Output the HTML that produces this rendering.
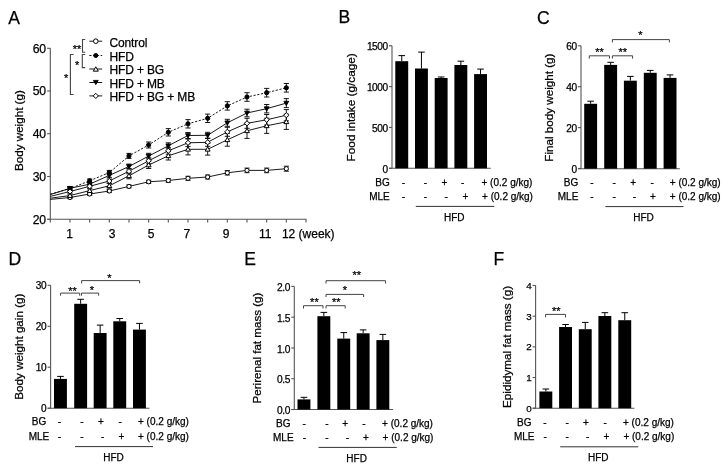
<!DOCTYPE html>
<html><head><meta charset="utf-8"><style>
html,body{margin:0;padding:0;background:#fff;}
svg{display:block;will-change:transform;filter:blur(0.3px);}
text{font-family:"Liberation Sans", sans-serif;fill:#000;stroke:#000;stroke-width:0.25px;}
</style></head><body>
<svg width="726" height="468" viewBox="0 0 726 468">
<rect width="726" height="468" fill="#fff"/>
<text x="8.30" y="23.80" font-size="17.5" text-anchor="start">A</text>
<text x="338.60" y="22.90" font-size="17.5" text-anchor="start">B</text>
<text x="537.00" y="24.00" font-size="17.5" text-anchor="start">C</text>
<text x="8.60" y="265.00" font-size="17.5" text-anchor="start">D</text>
<text x="244.30" y="265.20" font-size="17.5" text-anchor="start">E</text>
<text x="493.60" y="265.20" font-size="17.5" text-anchor="start">F</text>
<line x1="392.00" y1="45.80" x2="392.00" y2="168.30" stroke="#555" stroke-width="1.1"/>
<line x1="389.00" y1="168.30" x2="490.80" y2="168.30" stroke="#555" stroke-width="1.1"/>
<line x1="389.00" y1="45.80" x2="392.00" y2="45.80" stroke="#555" stroke-width="1.1"/>
<text x="387.60" y="50.24" font-size="10.1" text-anchor="end" letter-spacing="-0.45">1500</text>
<line x1="389.00" y1="86.60" x2="392.00" y2="86.60" stroke="#555" stroke-width="1.1"/>
<text x="387.60" y="91.04" font-size="10.1" text-anchor="end" letter-spacing="-0.45">1000</text>
<line x1="389.00" y1="127.40" x2="392.00" y2="127.40" stroke="#555" stroke-width="1.1"/>
<text x="387.60" y="131.84" font-size="10.1" text-anchor="end" letter-spacing="-0.45">500</text>
<line x1="389.00" y1="168.30" x2="392.00" y2="168.30" stroke="#555" stroke-width="1.1"/>
<text x="387.60" y="172.74" font-size="10.1" text-anchor="end" letter-spacing="-0.45">0</text>
<line x1="401.75" y1="55.60" x2="401.75" y2="61.20" stroke="#000" stroke-width="1.0"/>
<line x1="398.45" y1="55.60" x2="405.05" y2="55.60" stroke="#000" stroke-width="1.0"/>
<rect x="395.30" y="61.20" width="12.9" height="107.10" fill="#000"/>
<line x1="421.45" y1="52.10" x2="421.45" y2="68.50" stroke="#000" stroke-width="1.0"/>
<line x1="418.15" y1="52.10" x2="424.75" y2="52.10" stroke="#000" stroke-width="1.0"/>
<rect x="415.00" y="68.50" width="12.9" height="99.80" fill="#000"/>
<line x1="441.15" y1="77.00" x2="441.15" y2="78.00" stroke="#000" stroke-width="1.0"/>
<line x1="437.85" y1="77.00" x2="444.45" y2="77.00" stroke="#000" stroke-width="1.0"/>
<rect x="434.70" y="78.00" width="12.9" height="90.30" fill="#000"/>
<line x1="460.85" y1="61.20" x2="460.85" y2="65.00" stroke="#000" stroke-width="1.0"/>
<line x1="457.55" y1="61.20" x2="464.15" y2="61.20" stroke="#000" stroke-width="1.0"/>
<rect x="454.40" y="65.00" width="12.9" height="103.30" fill="#000"/>
<line x1="480.55" y1="69.10" x2="480.55" y2="74.10" stroke="#000" stroke-width="1.0"/>
<line x1="477.25" y1="69.10" x2="483.85" y2="69.10" stroke="#000" stroke-width="1.0"/>
<rect x="474.10" y="74.10" width="12.9" height="94.20" fill="#000"/>
<text x="354.70" y="107.30" font-size="11.8" text-anchor="middle" transform="rotate(-90 354.70 107.30)">Food intake (g/cage)</text>
<text x="389.70" y="185.60" font-size="10" text-anchor="end">BG</text>
<text x="389.70" y="200.00" font-size="10" text-anchor="end">MLE</text>
<text x="403.40" y="185.60" font-size="10" text-anchor="middle">-</text>
<text x="425.50" y="185.60" font-size="10" text-anchor="middle">-</text>
<text x="444.30" y="185.60" font-size="10" text-anchor="middle">+</text>
<text x="462.70" y="185.60" font-size="10" text-anchor="middle">-</text>
<text x="481.50" y="185.60" font-size="10" text-anchor="start">+ (0.2 g/kg)</text>
<text x="403.40" y="200.00" font-size="10" text-anchor="middle">-</text>
<text x="425.50" y="200.00" font-size="10" text-anchor="middle">-</text>
<text x="446.20" y="200.00" font-size="10" text-anchor="middle">-</text>
<text x="465.40" y="200.00" font-size="10" text-anchor="middle">+</text>
<text x="482.10" y="200.00" font-size="10" text-anchor="start">+ (0.2 g/kg)</text>
<line x1="415.80" y1="206.40" x2="494.30" y2="206.40" stroke="#333" stroke-width="1.0"/>
<text x="454.20" y="221.00" font-size="10" text-anchor="middle">HFD</text>
<line x1="581.00" y1="45.80" x2="581.00" y2="168.70" stroke="#555" stroke-width="1.1"/>
<line x1="578.00" y1="168.70" x2="679.80" y2="168.70" stroke="#555" stroke-width="1.1"/>
<line x1="578.00" y1="45.80" x2="581.00" y2="45.80" stroke="#555" stroke-width="1.1"/>
<text x="576.60" y="50.44" font-size="10.1" text-anchor="end" letter-spacing="-0.45">60</text>
<line x1="578.00" y1="86.70" x2="581.00" y2="86.70" stroke="#555" stroke-width="1.1"/>
<text x="576.60" y="91.34" font-size="10.1" text-anchor="end" letter-spacing="-0.45">40</text>
<line x1="578.00" y1="127.60" x2="581.00" y2="127.60" stroke="#555" stroke-width="1.1"/>
<text x="576.60" y="132.24" font-size="10.1" text-anchor="end" letter-spacing="-0.45">20</text>
<line x1="578.00" y1="168.50" x2="581.00" y2="168.50" stroke="#555" stroke-width="1.1"/>
<text x="576.60" y="173.14" font-size="10.1" text-anchor="end" letter-spacing="-0.45">0</text>
<line x1="590.65" y1="101.20" x2="590.65" y2="103.80" stroke="#000" stroke-width="1.0"/>
<line x1="587.35" y1="101.20" x2="593.95" y2="101.20" stroke="#000" stroke-width="1.0"/>
<rect x="584.20" y="103.80" width="12.9" height="64.90" fill="#000"/>
<line x1="610.65" y1="62.30" x2="610.65" y2="64.90" stroke="#000" stroke-width="1.0"/>
<line x1="607.35" y1="62.30" x2="613.95" y2="62.30" stroke="#000" stroke-width="1.0"/>
<rect x="604.20" y="64.90" width="12.9" height="103.80" fill="#000"/>
<line x1="630.35" y1="76.40" x2="630.35" y2="80.70" stroke="#000" stroke-width="1.0"/>
<line x1="627.05" y1="76.40" x2="633.65" y2="76.40" stroke="#000" stroke-width="1.0"/>
<rect x="623.90" y="80.70" width="12.9" height="88.00" fill="#000"/>
<line x1="650.25" y1="70.40" x2="650.25" y2="72.80" stroke="#000" stroke-width="1.0"/>
<line x1="646.95" y1="70.40" x2="653.55" y2="70.40" stroke="#000" stroke-width="1.0"/>
<rect x="643.80" y="72.80" width="12.9" height="95.90" fill="#000"/>
<line x1="670.05" y1="74.90" x2="670.05" y2="77.90" stroke="#000" stroke-width="1.0"/>
<line x1="666.75" y1="74.90" x2="673.35" y2="74.90" stroke="#000" stroke-width="1.0"/>
<rect x="663.60" y="77.90" width="12.9" height="90.80" fill="#000"/>
<path d="M589.30 58.60 V55.80 H609.50 V58.60" stroke="#444" stroke-width="1.0" fill="none"/>
<text x="599.60" y="56.00" font-size="11" text-anchor="middle">**</text>
<path d="M612.40 58.60 V55.80 H632.60 V58.60" stroke="#444" stroke-width="1.0" fill="none"/>
<text x="622.80" y="56.00" font-size="11" text-anchor="middle">**</text>
<path d="M612.40 42.40 V39.60 H669.40 V42.40" stroke="#444" stroke-width="1.0" fill="none"/>
<text x="640.40" y="39.30" font-size="11" text-anchor="middle">*</text>
<text x="553.30" y="107.60" font-size="11.65" text-anchor="middle" transform="rotate(-90 553.30 107.60)">Final body weight (g)</text>
<text x="578.30" y="185.60" font-size="10" text-anchor="end">BG</text>
<text x="578.30" y="199.50" font-size="10" text-anchor="end">MLE</text>
<text x="591.80" y="185.60" font-size="10" text-anchor="middle">-</text>
<text x="614.20" y="185.60" font-size="10" text-anchor="middle">-</text>
<text x="633.20" y="185.60" font-size="10" text-anchor="middle">+</text>
<text x="652.20" y="185.60" font-size="10" text-anchor="middle">-</text>
<text x="669.80" y="185.60" font-size="10" text-anchor="start">+ (0.2 g/kg)</text>
<text x="591.80" y="199.50" font-size="10" text-anchor="middle">-</text>
<text x="614.20" y="199.50" font-size="10" text-anchor="middle">-</text>
<text x="634.30" y="199.50" font-size="10" text-anchor="middle">-</text>
<text x="653.00" y="199.50" font-size="10" text-anchor="middle">+</text>
<text x="669.80" y="199.50" font-size="10" text-anchor="start">+ (0.2 g/kg)</text>
<line x1="605.30" y1="206.60" x2="683.50" y2="206.60" stroke="#333" stroke-width="1.0"/>
<text x="643.50" y="220.80" font-size="10" text-anchor="middle">HFD</text>
<line x1="50.60" y1="285.30" x2="50.60" y2="408.20" stroke="#555" stroke-width="1.1"/>
<line x1="47.60" y1="408.20" x2="149.40" y2="408.20" stroke="#555" stroke-width="1.1"/>
<line x1="47.60" y1="285.30" x2="50.60" y2="285.30" stroke="#555" stroke-width="1.1"/>
<text x="46.20" y="289.34" font-size="10.1" text-anchor="end" letter-spacing="-0.45">30</text>
<line x1="47.60" y1="326.30" x2="50.60" y2="326.30" stroke="#555" stroke-width="1.1"/>
<text x="46.20" y="330.34" font-size="10.1" text-anchor="end" letter-spacing="-0.45">20</text>
<line x1="47.60" y1="367.20" x2="50.60" y2="367.20" stroke="#555" stroke-width="1.1"/>
<text x="46.20" y="371.24" font-size="10.1" text-anchor="end" letter-spacing="-0.45">10</text>
<line x1="47.60" y1="408.20" x2="50.60" y2="408.20" stroke="#555" stroke-width="1.1"/>
<text x="46.20" y="412.24" font-size="10.1" text-anchor="end" letter-spacing="-0.45">0</text>
<line x1="60.45" y1="376.40" x2="60.45" y2="378.90" stroke="#000" stroke-width="1.0"/>
<line x1="57.15" y1="376.40" x2="63.75" y2="376.40" stroke="#000" stroke-width="1.0"/>
<rect x="54.00" y="378.90" width="12.9" height="29.30" fill="#000"/>
<line x1="80.65" y1="299.30" x2="80.65" y2="303.80" stroke="#000" stroke-width="1.0"/>
<line x1="77.35" y1="299.30" x2="83.95" y2="299.30" stroke="#000" stroke-width="1.0"/>
<rect x="74.20" y="303.80" width="12.9" height="104.40" fill="#000"/>
<line x1="100.15" y1="325.10" x2="100.15" y2="333.00" stroke="#000" stroke-width="1.0"/>
<line x1="96.85" y1="325.10" x2="103.45" y2="325.10" stroke="#000" stroke-width="1.0"/>
<rect x="93.70" y="333.00" width="12.9" height="75.20" fill="#000"/>
<line x1="119.75" y1="318.50" x2="119.75" y2="321.30" stroke="#000" stroke-width="1.0"/>
<line x1="116.45" y1="318.50" x2="123.05" y2="318.50" stroke="#000" stroke-width="1.0"/>
<rect x="113.30" y="321.30" width="12.9" height="86.90" fill="#000"/>
<line x1="139.45" y1="323.40" x2="139.45" y2="329.60" stroke="#000" stroke-width="1.0"/>
<line x1="136.15" y1="323.40" x2="142.75" y2="323.40" stroke="#000" stroke-width="1.0"/>
<rect x="133.00" y="329.60" width="12.9" height="78.60" fill="#000"/>
<path d="M60.60 295.70 V293.10 H79.70 V295.70" stroke="#444" stroke-width="1.0" fill="none"/>
<text x="72.60" y="294.60" font-size="11" text-anchor="middle">**</text>
<path d="M81.50 295.70 V293.10 H98.60 V295.70" stroke="#444" stroke-width="1.0" fill="none"/>
<text x="91.90" y="294.30" font-size="11" text-anchor="middle">*</text>
<path d="M81.60 283.40 V280.60 H139.60 V283.40" stroke="#444" stroke-width="1.0" fill="none"/>
<text x="109.40" y="282.40" font-size="11" text-anchor="middle">*</text>
<text x="22.90" y="346.70" font-size="11.65" text-anchor="middle" transform="rotate(-90 22.90 346.70)">Body weight gain (g)</text>
<text x="39.00" y="425.20" font-size="10" text-anchor="middle">BG</text>
<text x="39.00" y="439.80" font-size="10" text-anchor="middle">MLE</text>
<text x="59.50" y="425.20" font-size="10" text-anchor="middle">-</text>
<text x="82.00" y="425.20" font-size="10" text-anchor="middle">-</text>
<text x="101.00" y="425.20" font-size="10" text-anchor="middle">+</text>
<text x="120.20" y="425.20" font-size="10" text-anchor="middle">-</text>
<text x="138.00" y="425.20" font-size="10" text-anchor="start">+ (0.2 g/kg)</text>
<text x="59.50" y="439.80" font-size="10" text-anchor="middle">-</text>
<text x="82.00" y="439.80" font-size="10" text-anchor="middle">-</text>
<text x="102.70" y="439.80" font-size="10" text-anchor="middle">-</text>
<text x="121.30" y="439.80" font-size="10" text-anchor="middle">+</text>
<text x="138.00" y="439.80" font-size="10" text-anchor="start">+ (0.2 g/kg)</text>
<line x1="75.00" y1="446.60" x2="153.00" y2="446.60" stroke="#333" stroke-width="1.0"/>
<text x="113.50" y="460.60" font-size="10" text-anchor="middle">HFD</text>
<line x1="294.30" y1="286.40" x2="294.30" y2="409.50" stroke="#555" stroke-width="1.1"/>
<line x1="291.30" y1="409.50" x2="393.10" y2="409.50" stroke="#555" stroke-width="1.1"/>
<line x1="291.30" y1="286.40" x2="294.30" y2="286.40" stroke="#555" stroke-width="1.1"/>
<text x="289.90" y="291.07" font-size="10.2" text-anchor="end" letter-spacing="-0.45">2.0</text>
<line x1="291.30" y1="317.20" x2="294.30" y2="317.20" stroke="#555" stroke-width="1.1"/>
<text x="289.90" y="321.87" font-size="10.2" text-anchor="end" letter-spacing="-0.45">1.5</text>
<line x1="291.30" y1="348.00" x2="294.30" y2="348.00" stroke="#555" stroke-width="1.1"/>
<text x="289.90" y="352.67" font-size="10.2" text-anchor="end" letter-spacing="-0.45">1.0</text>
<line x1="291.30" y1="378.70" x2="294.30" y2="378.70" stroke="#555" stroke-width="1.1"/>
<text x="289.90" y="383.37" font-size="10.2" text-anchor="end" letter-spacing="-0.45">0.5</text>
<line x1="291.30" y1="409.50" x2="294.30" y2="409.50" stroke="#555" stroke-width="1.1"/>
<text x="289.90" y="414.17" font-size="10.2" text-anchor="end" letter-spacing="-0.45">0.0</text>
<line x1="303.95" y1="397.30" x2="303.95" y2="399.40" stroke="#000" stroke-width="1.0"/>
<line x1="300.65" y1="397.30" x2="307.25" y2="397.30" stroke="#000" stroke-width="1.0"/>
<rect x="297.50" y="399.40" width="12.9" height="10.10" fill="#000"/>
<line x1="323.85" y1="312.40" x2="323.85" y2="316.20" stroke="#000" stroke-width="1.0"/>
<line x1="320.55" y1="312.40" x2="327.15" y2="312.40" stroke="#000" stroke-width="1.0"/>
<rect x="317.40" y="316.20" width="12.9" height="93.30" fill="#000"/>
<line x1="343.75" y1="332.60" x2="343.75" y2="338.60" stroke="#000" stroke-width="1.0"/>
<line x1="340.45" y1="332.60" x2="347.05" y2="332.60" stroke="#000" stroke-width="1.0"/>
<rect x="337.30" y="338.60" width="12.9" height="70.90" fill="#000"/>
<line x1="363.15" y1="329.90" x2="363.15" y2="333.30" stroke="#000" stroke-width="1.0"/>
<line x1="359.85" y1="329.90" x2="366.45" y2="329.90" stroke="#000" stroke-width="1.0"/>
<rect x="356.70" y="333.30" width="12.9" height="76.20" fill="#000"/>
<line x1="382.85" y1="334.40" x2="382.85" y2="340.10" stroke="#000" stroke-width="1.0"/>
<line x1="379.55" y1="334.40" x2="386.15" y2="334.40" stroke="#000" stroke-width="1.0"/>
<rect x="376.40" y="340.10" width="12.9" height="69.40" fill="#000"/>
<path d="M303.50 308.50 V305.70 H323.00 V308.50" stroke="#444" stroke-width="1.0" fill="none"/>
<text x="314.40" y="305.50" font-size="11" text-anchor="middle">**</text>
<path d="M326.00 308.50 V305.70 H345.20 V308.50" stroke="#444" stroke-width="1.0" fill="none"/>
<text x="336.20" y="305.50" font-size="11" text-anchor="middle">**</text>
<path d="M326.00 297.00 V294.40 H363.60 V297.00" stroke="#444" stroke-width="1.0" fill="none"/>
<text x="344.80" y="294.40" font-size="11" text-anchor="middle">*</text>
<path d="M326.00 283.50 V280.70 H385.60 V283.50" stroke="#444" stroke-width="1.0" fill="none"/>
<text x="356.80" y="279.30" font-size="11" text-anchor="middle">**</text>
<text x="260.60" y="348.00" font-size="11.6" text-anchor="middle" transform="rotate(-90 260.60 348.00)">Perirenal fat mass (g)</text>
<text x="283.30" y="426.80" font-size="10" text-anchor="middle">BG</text>
<text x="283.30" y="440.90" font-size="10" text-anchor="middle">MLE</text>
<text x="304.10" y="426.80" font-size="10" text-anchor="middle">-</text>
<text x="326.80" y="426.80" font-size="10" text-anchor="middle">-</text>
<text x="345.20" y="426.80" font-size="10" text-anchor="middle">+</text>
<text x="364.00" y="426.80" font-size="10" text-anchor="middle">-</text>
<text x="382.10" y="426.80" font-size="10" text-anchor="start">+ (0.2 g/kg)</text>
<text x="304.40" y="440.90" font-size="10" text-anchor="middle">-</text>
<text x="326.80" y="440.90" font-size="10" text-anchor="middle">-</text>
<text x="347.40" y="440.90" font-size="10" text-anchor="middle">-</text>
<text x="365.80" y="440.90" font-size="10" text-anchor="middle">+</text>
<text x="382.60" y="440.90" font-size="10" text-anchor="start">+ (0.2 g/kg)</text>
<line x1="318.50" y1="447.40" x2="396.80" y2="447.40" stroke="#333" stroke-width="1.0"/>
<text x="356.60" y="462.20" font-size="10" text-anchor="middle">HFD</text>
<line x1="535.60" y1="285.50" x2="535.60" y2="408.20" stroke="#555" stroke-width="1.1"/>
<line x1="532.60" y1="408.20" x2="634.40" y2="408.20" stroke="#555" stroke-width="1.1"/>
<line x1="532.60" y1="285.50" x2="535.60" y2="285.50" stroke="#555" stroke-width="1.1"/>
<text x="531.20" y="289.03" font-size="9.8" text-anchor="end" letter-spacing="-0.45">4</text>
<line x1="532.60" y1="316.20" x2="535.60" y2="316.20" stroke="#555" stroke-width="1.1"/>
<text x="531.20" y="319.73" font-size="9.8" text-anchor="end" letter-spacing="-0.45">3</text>
<line x1="532.60" y1="346.90" x2="535.60" y2="346.90" stroke="#555" stroke-width="1.1"/>
<text x="531.20" y="350.43" font-size="9.8" text-anchor="end" letter-spacing="-0.45">2</text>
<line x1="532.60" y1="377.50" x2="535.60" y2="377.50" stroke="#555" stroke-width="1.1"/>
<text x="531.20" y="381.03" font-size="9.8" text-anchor="end" letter-spacing="-0.45">1</text>
<line x1="532.60" y1="408.20" x2="535.60" y2="408.20" stroke="#555" stroke-width="1.1"/>
<text x="531.20" y="411.73" font-size="9.8" text-anchor="end" letter-spacing="-0.45">0</text>
<line x1="545.85" y1="389.00" x2="545.85" y2="391.50" stroke="#000" stroke-width="1.0"/>
<line x1="542.55" y1="389.00" x2="549.15" y2="389.00" stroke="#000" stroke-width="1.0"/>
<rect x="539.40" y="391.50" width="12.9" height="16.70" fill="#000"/>
<line x1="565.55" y1="324.50" x2="565.55" y2="327.00" stroke="#000" stroke-width="1.0"/>
<line x1="562.25" y1="324.50" x2="568.85" y2="324.50" stroke="#000" stroke-width="1.0"/>
<rect x="559.10" y="327.00" width="12.9" height="81.20" fill="#000"/>
<line x1="585.25" y1="322.40" x2="585.25" y2="329.20" stroke="#000" stroke-width="1.0"/>
<line x1="581.95" y1="322.40" x2="588.55" y2="322.40" stroke="#000" stroke-width="1.0"/>
<rect x="578.80" y="329.20" width="12.9" height="79.00" fill="#000"/>
<line x1="604.85" y1="312.70" x2="604.85" y2="316.00" stroke="#000" stroke-width="1.0"/>
<line x1="601.55" y1="312.70" x2="608.15" y2="312.70" stroke="#000" stroke-width="1.0"/>
<rect x="598.40" y="316.00" width="12.9" height="92.20" fill="#000"/>
<line x1="624.75" y1="312.70" x2="624.75" y2="320.20" stroke="#000" stroke-width="1.0"/>
<line x1="621.45" y1="312.70" x2="628.05" y2="312.70" stroke="#000" stroke-width="1.0"/>
<rect x="618.30" y="320.20" width="12.9" height="88.00" fill="#000"/>
<path d="M545.60 317.40 V314.40 H565.50 V317.40" stroke="#444" stroke-width="1.0" fill="none"/>
<text x="556.30" y="315.10" font-size="11" text-anchor="middle">**</text>
<text x="511.20" y="346.90" font-size="11.7" text-anchor="middle" transform="rotate(-90 511.20 346.90)">Epididymal fat mass (g)</text>
<text x="524.20" y="425.80" font-size="10" text-anchor="middle">BG</text>
<text x="524.20" y="440.20" font-size="10" text-anchor="middle">MLE</text>
<text x="545.00" y="425.80" font-size="10" text-anchor="middle">-</text>
<text x="567.10" y="425.80" font-size="10" text-anchor="middle">-</text>
<text x="586.00" y="425.80" font-size="10" text-anchor="middle">+</text>
<text x="605.20" y="425.80" font-size="10" text-anchor="middle">-</text>
<text x="623.00" y="425.80" font-size="10" text-anchor="start">+ (0.2 g/kg)</text>
<text x="545.20" y="440.20" font-size="10" text-anchor="middle">-</text>
<text x="567.20" y="440.20" font-size="10" text-anchor="middle">-</text>
<text x="587.70" y="440.20" font-size="10" text-anchor="middle">-</text>
<text x="606.30" y="440.20" font-size="10" text-anchor="middle">+</text>
<text x="623.40" y="440.20" font-size="10" text-anchor="start">+ (0.2 g/kg)</text>
<line x1="560.20" y1="446.80" x2="638.30" y2="446.80" stroke="#333" stroke-width="1.0"/>
<text x="598.30" y="461.20" font-size="10" text-anchor="middle">HFD</text>
<line x1="50.30" y1="48.30" x2="50.30" y2="219.30" stroke="#555" stroke-width="1.1"/>
<line x1="47.30" y1="219.30" x2="306.30" y2="219.30" stroke="#555" stroke-width="1.1"/>
<line x1="47.10" y1="48.30" x2="50.30" y2="48.30" stroke="#555" stroke-width="1.1"/>
<text x="45.70" y="52.60" font-size="12.2" text-anchor="end" letter-spacing="-0.3">60</text>
<line x1="47.10" y1="91.00" x2="50.30" y2="91.00" stroke="#555" stroke-width="1.1"/>
<text x="45.70" y="95.30" font-size="12.2" text-anchor="end" letter-spacing="-0.3">50</text>
<line x1="47.10" y1="133.70" x2="50.30" y2="133.70" stroke="#555" stroke-width="1.1"/>
<text x="45.70" y="138.00" font-size="12.2" text-anchor="end" letter-spacing="-0.3">40</text>
<line x1="47.10" y1="176.50" x2="50.30" y2="176.50" stroke="#555" stroke-width="1.1"/>
<text x="45.70" y="180.80" font-size="12.2" text-anchor="end" letter-spacing="-0.3">30</text>
<line x1="47.10" y1="219.30" x2="50.30" y2="219.30" stroke="#555" stroke-width="1.1"/>
<text x="45.70" y="223.60" font-size="12.2" text-anchor="end" letter-spacing="-0.3">20</text>
<line x1="50.30" y1="219.30" x2="50.30" y2="222.60" stroke="#555" stroke-width="1.1"/>
<line x1="69.97" y1="219.30" x2="69.97" y2="222.60" stroke="#555" stroke-width="1.1"/>
<line x1="89.64" y1="219.30" x2="89.64" y2="222.60" stroke="#555" stroke-width="1.1"/>
<line x1="109.31" y1="219.30" x2="109.31" y2="222.60" stroke="#555" stroke-width="1.1"/>
<line x1="128.98" y1="219.30" x2="128.98" y2="222.60" stroke="#555" stroke-width="1.1"/>
<line x1="148.65" y1="219.30" x2="148.65" y2="222.60" stroke="#555" stroke-width="1.1"/>
<line x1="168.32" y1="219.30" x2="168.32" y2="222.60" stroke="#555" stroke-width="1.1"/>
<line x1="187.99" y1="219.30" x2="187.99" y2="222.60" stroke="#555" stroke-width="1.1"/>
<line x1="207.66" y1="219.30" x2="207.66" y2="222.60" stroke="#555" stroke-width="1.1"/>
<line x1="227.33" y1="219.30" x2="227.33" y2="222.60" stroke="#555" stroke-width="1.1"/>
<line x1="247.00" y1="219.30" x2="247.00" y2="222.60" stroke="#555" stroke-width="1.1"/>
<line x1="266.67" y1="219.30" x2="266.67" y2="222.60" stroke="#555" stroke-width="1.1"/>
<line x1="286.34" y1="219.30" x2="286.34" y2="222.60" stroke="#555" stroke-width="1.1"/>
<line x1="306.01" y1="219.30" x2="306.01" y2="222.60" stroke="#555" stroke-width="1.1"/>
<text x="69.50" y="237.60" font-size="12" text-anchor="middle">1</text>
<text x="112.00" y="237.60" font-size="12" text-anchor="middle">3</text>
<text x="151.10" y="237.60" font-size="12" text-anchor="middle">5</text>
<text x="186.90" y="237.60" font-size="12" text-anchor="middle">7</text>
<text x="226.20" y="237.60" font-size="12" text-anchor="middle">9</text>
<text x="265.30" y="237.60" font-size="12" text-anchor="middle">11</text>
<text x="281.90" y="237.60" font-size="12" text-anchor="start">12 (week)</text>
<text x="22.70" y="130.60" font-size="11.65" text-anchor="middle" transform="rotate(-90 22.70 130.60)">Body weight (g)</text>
<polyline points="50.30,199.40 69.97,197.50 89.64,194.00 109.31,191.00 128.98,186.40 148.65,181.80 168.32,180.50 187.99,178.30 207.66,177.00 227.33,172.80 247.00,170.40 266.67,170.40 286.34,168.70" fill="none" stroke="#000" stroke-width="0.9"/>
<polyline points="50.30,198.20 69.97,195.60 89.64,190.60 109.31,185.80 128.98,175.80 148.65,165.00 168.32,155.80 187.99,149.30 207.66,149.30 227.33,139.80 247.00,130.80 266.67,125.80 286.34,121.80" fill="none" stroke="#000" stroke-width="0.9"/>
<polyline points="50.30,196.40 69.97,191.50 89.64,186.30 109.31,181.00 128.98,171.20 148.65,160.80 168.32,150.80 187.99,142.80 207.66,142.30 227.33,131.80 247.00,123.30 266.67,119.80 286.34,115.20" fill="none" stroke="#000" stroke-width="0.9"/>
<polyline points="50.30,194.60 69.97,188.30 89.64,184.20 109.31,175.40 128.98,166.50 148.65,156.10 168.32,145.80 187.99,135.50 207.66,135.30 227.33,122.80 247.00,113.00 266.67,108.70 286.34,103.10" fill="none" stroke="#000" stroke-width="0.9"/>
<polyline points="50.30,194.20 69.97,188.60 89.64,180.80 109.31,172.60 128.98,155.90 148.65,145.00 168.32,132.30 187.99,123.80 207.66,118.30 227.33,105.90 247.00,97.00 266.67,92.70 286.34,87.80" fill="none" stroke="#000" stroke-width="0.9" stroke-dasharray="2.2,1.6"/>
<line x1="69.97" y1="196.30" x2="69.97" y2="198.70" stroke="#000" stroke-width="0.9"/>
<line x1="67.37" y1="196.30" x2="72.57" y2="196.30" stroke="#000" stroke-width="0.9"/>
<line x1="67.37" y1="198.70" x2="72.57" y2="198.70" stroke="#000" stroke-width="0.9"/>
<line x1="89.64" y1="192.70" x2="89.64" y2="195.30" stroke="#000" stroke-width="0.9"/>
<line x1="87.04" y1="192.70" x2="92.24" y2="192.70" stroke="#000" stroke-width="0.9"/>
<line x1="87.04" y1="195.30" x2="92.24" y2="195.30" stroke="#000" stroke-width="0.9"/>
<line x1="109.31" y1="189.60" x2="109.31" y2="192.40" stroke="#000" stroke-width="0.9"/>
<line x1="106.71" y1="189.60" x2="111.91" y2="189.60" stroke="#000" stroke-width="0.9"/>
<line x1="106.71" y1="192.40" x2="111.91" y2="192.40" stroke="#000" stroke-width="0.9"/>
<line x1="128.98" y1="184.90" x2="128.98" y2="187.90" stroke="#000" stroke-width="0.9"/>
<line x1="126.38" y1="184.90" x2="131.58" y2="184.90" stroke="#000" stroke-width="0.9"/>
<line x1="126.38" y1="187.90" x2="131.58" y2="187.90" stroke="#000" stroke-width="0.9"/>
<line x1="148.65" y1="180.20" x2="148.65" y2="183.40" stroke="#000" stroke-width="0.9"/>
<line x1="146.05" y1="180.20" x2="151.25" y2="180.20" stroke="#000" stroke-width="0.9"/>
<line x1="146.05" y1="183.40" x2="151.25" y2="183.40" stroke="#000" stroke-width="0.9"/>
<line x1="168.32" y1="178.70" x2="168.32" y2="182.30" stroke="#000" stroke-width="0.9"/>
<line x1="165.72" y1="178.70" x2="170.92" y2="178.70" stroke="#000" stroke-width="0.9"/>
<line x1="165.72" y1="182.30" x2="170.92" y2="182.30" stroke="#000" stroke-width="0.9"/>
<line x1="187.99" y1="176.30" x2="187.99" y2="180.30" stroke="#000" stroke-width="0.9"/>
<line x1="185.39" y1="176.30" x2="190.59" y2="176.30" stroke="#000" stroke-width="0.9"/>
<line x1="185.39" y1="180.30" x2="190.59" y2="180.30" stroke="#000" stroke-width="0.9"/>
<line x1="207.66" y1="175.00" x2="207.66" y2="179.00" stroke="#000" stroke-width="0.9"/>
<line x1="205.06" y1="175.00" x2="210.26" y2="175.00" stroke="#000" stroke-width="0.9"/>
<line x1="205.06" y1="179.00" x2="210.26" y2="179.00" stroke="#000" stroke-width="0.9"/>
<line x1="227.33" y1="170.60" x2="227.33" y2="175.00" stroke="#000" stroke-width="0.9"/>
<line x1="224.73" y1="170.60" x2="229.93" y2="170.60" stroke="#000" stroke-width="0.9"/>
<line x1="224.73" y1="175.00" x2="229.93" y2="175.00" stroke="#000" stroke-width="0.9"/>
<line x1="247.00" y1="168.10" x2="247.00" y2="172.70" stroke="#000" stroke-width="0.9"/>
<line x1="244.40" y1="168.10" x2="249.60" y2="168.10" stroke="#000" stroke-width="0.9"/>
<line x1="244.40" y1="172.70" x2="249.60" y2="172.70" stroke="#000" stroke-width="0.9"/>
<line x1="266.67" y1="168.10" x2="266.67" y2="172.70" stroke="#000" stroke-width="0.9"/>
<line x1="264.07" y1="168.10" x2="269.27" y2="168.10" stroke="#000" stroke-width="0.9"/>
<line x1="264.07" y1="172.70" x2="269.27" y2="172.70" stroke="#000" stroke-width="0.9"/>
<line x1="286.34" y1="166.20" x2="286.34" y2="171.20" stroke="#000" stroke-width="0.9"/>
<line x1="283.74" y1="166.20" x2="288.94" y2="166.20" stroke="#000" stroke-width="0.9"/>
<line x1="283.74" y1="171.20" x2="288.94" y2="171.20" stroke="#000" stroke-width="0.9"/>
<line x1="69.97" y1="194.10" x2="69.97" y2="197.10" stroke="#000" stroke-width="0.9"/>
<line x1="67.37" y1="194.10" x2="72.57" y2="194.10" stroke="#000" stroke-width="0.9"/>
<line x1="67.37" y1="197.10" x2="72.57" y2="197.10" stroke="#000" stroke-width="0.9"/>
<line x1="89.64" y1="188.80" x2="89.64" y2="192.40" stroke="#000" stroke-width="0.9"/>
<line x1="87.04" y1="188.80" x2="92.24" y2="188.80" stroke="#000" stroke-width="0.9"/>
<line x1="87.04" y1="192.40" x2="92.24" y2="192.40" stroke="#000" stroke-width="0.9"/>
<line x1="109.31" y1="183.60" x2="109.31" y2="188.00" stroke="#000" stroke-width="0.9"/>
<line x1="106.71" y1="183.60" x2="111.91" y2="183.60" stroke="#000" stroke-width="0.9"/>
<line x1="106.71" y1="188.00" x2="111.91" y2="188.00" stroke="#000" stroke-width="0.9"/>
<line x1="128.98" y1="172.80" x2="128.98" y2="178.80" stroke="#000" stroke-width="0.9"/>
<line x1="126.38" y1="172.80" x2="131.58" y2="172.80" stroke="#000" stroke-width="0.9"/>
<line x1="126.38" y1="178.80" x2="131.58" y2="178.80" stroke="#000" stroke-width="0.9"/>
<line x1="148.65" y1="161.50" x2="148.65" y2="168.50" stroke="#000" stroke-width="0.9"/>
<line x1="146.05" y1="161.50" x2="151.25" y2="161.50" stroke="#000" stroke-width="0.9"/>
<line x1="146.05" y1="168.50" x2="151.25" y2="168.50" stroke="#000" stroke-width="0.9"/>
<line x1="168.32" y1="151.60" x2="168.32" y2="160.00" stroke="#000" stroke-width="0.9"/>
<line x1="165.72" y1="151.60" x2="170.92" y2="151.60" stroke="#000" stroke-width="0.9"/>
<line x1="165.72" y1="160.00" x2="170.92" y2="160.00" stroke="#000" stroke-width="0.9"/>
<line x1="187.99" y1="143.70" x2="187.99" y2="154.90" stroke="#000" stroke-width="0.9"/>
<line x1="185.39" y1="143.70" x2="190.59" y2="143.70" stroke="#000" stroke-width="0.9"/>
<line x1="185.39" y1="154.90" x2="190.59" y2="154.90" stroke="#000" stroke-width="0.9"/>
<line x1="207.66" y1="143.50" x2="207.66" y2="155.10" stroke="#000" stroke-width="0.9"/>
<line x1="205.06" y1="143.50" x2="210.26" y2="143.50" stroke="#000" stroke-width="0.9"/>
<line x1="205.06" y1="155.10" x2="210.26" y2="155.10" stroke="#000" stroke-width="0.9"/>
<line x1="227.33" y1="133.40" x2="227.33" y2="146.20" stroke="#000" stroke-width="0.9"/>
<line x1="224.73" y1="133.40" x2="229.93" y2="133.40" stroke="#000" stroke-width="0.9"/>
<line x1="224.73" y1="146.20" x2="229.93" y2="146.20" stroke="#000" stroke-width="0.9"/>
<line x1="247.00" y1="123.20" x2="247.00" y2="138.40" stroke="#000" stroke-width="0.9"/>
<line x1="244.40" y1="123.20" x2="249.60" y2="123.20" stroke="#000" stroke-width="0.9"/>
<line x1="244.40" y1="138.40" x2="249.60" y2="138.40" stroke="#000" stroke-width="0.9"/>
<line x1="266.67" y1="118.20" x2="266.67" y2="133.40" stroke="#000" stroke-width="0.9"/>
<line x1="264.07" y1="118.20" x2="269.27" y2="118.20" stroke="#000" stroke-width="0.9"/>
<line x1="264.07" y1="133.40" x2="269.27" y2="133.40" stroke="#000" stroke-width="0.9"/>
<line x1="286.34" y1="114.20" x2="286.34" y2="129.40" stroke="#000" stroke-width="0.9"/>
<line x1="283.74" y1="114.20" x2="288.94" y2="114.20" stroke="#000" stroke-width="0.9"/>
<line x1="283.74" y1="129.40" x2="288.94" y2="129.40" stroke="#000" stroke-width="0.9"/>
<line x1="69.97" y1="190.00" x2="69.97" y2="193.00" stroke="#000" stroke-width="0.9"/>
<line x1="67.37" y1="190.00" x2="72.57" y2="190.00" stroke="#000" stroke-width="0.9"/>
<line x1="67.37" y1="193.00" x2="72.57" y2="193.00" stroke="#000" stroke-width="0.9"/>
<line x1="89.64" y1="184.50" x2="89.64" y2="188.10" stroke="#000" stroke-width="0.9"/>
<line x1="87.04" y1="184.50" x2="92.24" y2="184.50" stroke="#000" stroke-width="0.9"/>
<line x1="87.04" y1="188.10" x2="92.24" y2="188.10" stroke="#000" stroke-width="0.9"/>
<line x1="109.31" y1="179.00" x2="109.31" y2="183.00" stroke="#000" stroke-width="0.9"/>
<line x1="106.71" y1="179.00" x2="111.91" y2="179.00" stroke="#000" stroke-width="0.9"/>
<line x1="106.71" y1="183.00" x2="111.91" y2="183.00" stroke="#000" stroke-width="0.9"/>
<line x1="128.98" y1="168.60" x2="128.98" y2="173.80" stroke="#000" stroke-width="0.9"/>
<line x1="126.38" y1="168.60" x2="131.58" y2="168.60" stroke="#000" stroke-width="0.9"/>
<line x1="126.38" y1="173.80" x2="131.58" y2="173.80" stroke="#000" stroke-width="0.9"/>
<line x1="148.65" y1="157.80" x2="148.65" y2="163.80" stroke="#000" stroke-width="0.9"/>
<line x1="146.05" y1="157.80" x2="151.25" y2="157.80" stroke="#000" stroke-width="0.9"/>
<line x1="146.05" y1="163.80" x2="151.25" y2="163.80" stroke="#000" stroke-width="0.9"/>
<line x1="168.32" y1="147.40" x2="168.32" y2="154.20" stroke="#000" stroke-width="0.9"/>
<line x1="165.72" y1="147.40" x2="170.92" y2="147.40" stroke="#000" stroke-width="0.9"/>
<line x1="165.72" y1="154.20" x2="170.92" y2="154.20" stroke="#000" stroke-width="0.9"/>
<line x1="187.99" y1="139.00" x2="187.99" y2="146.60" stroke="#000" stroke-width="0.9"/>
<line x1="185.39" y1="139.00" x2="190.59" y2="139.00" stroke="#000" stroke-width="0.9"/>
<line x1="185.39" y1="146.60" x2="190.59" y2="146.60" stroke="#000" stroke-width="0.9"/>
<line x1="207.66" y1="138.30" x2="207.66" y2="146.30" stroke="#000" stroke-width="0.9"/>
<line x1="205.06" y1="138.30" x2="210.26" y2="138.30" stroke="#000" stroke-width="0.9"/>
<line x1="205.06" y1="146.30" x2="210.26" y2="146.30" stroke="#000" stroke-width="0.9"/>
<line x1="227.33" y1="127.30" x2="227.33" y2="136.30" stroke="#000" stroke-width="0.9"/>
<line x1="224.73" y1="127.30" x2="229.93" y2="127.30" stroke="#000" stroke-width="0.9"/>
<line x1="224.73" y1="136.30" x2="229.93" y2="136.30" stroke="#000" stroke-width="0.9"/>
<line x1="247.00" y1="118.30" x2="247.00" y2="128.30" stroke="#000" stroke-width="0.9"/>
<line x1="244.40" y1="118.30" x2="249.60" y2="118.30" stroke="#000" stroke-width="0.9"/>
<line x1="244.40" y1="128.30" x2="249.60" y2="128.30" stroke="#000" stroke-width="0.9"/>
<line x1="266.67" y1="114.50" x2="266.67" y2="125.10" stroke="#000" stroke-width="0.9"/>
<line x1="264.07" y1="114.50" x2="269.27" y2="114.50" stroke="#000" stroke-width="0.9"/>
<line x1="264.07" y1="125.10" x2="269.27" y2="125.10" stroke="#000" stroke-width="0.9"/>
<line x1="286.34" y1="109.60" x2="286.34" y2="120.80" stroke="#000" stroke-width="0.9"/>
<line x1="283.74" y1="109.60" x2="288.94" y2="109.60" stroke="#000" stroke-width="0.9"/>
<line x1="283.74" y1="120.80" x2="288.94" y2="120.80" stroke="#000" stroke-width="0.9"/>
<line x1="69.97" y1="186.80" x2="69.97" y2="189.80" stroke="#000" stroke-width="0.9"/>
<line x1="67.37" y1="186.80" x2="72.57" y2="186.80" stroke="#000" stroke-width="0.9"/>
<line x1="67.37" y1="189.80" x2="72.57" y2="189.80" stroke="#000" stroke-width="0.9"/>
<line x1="89.64" y1="182.40" x2="89.64" y2="186.00" stroke="#000" stroke-width="0.9"/>
<line x1="87.04" y1="182.40" x2="92.24" y2="182.40" stroke="#000" stroke-width="0.9"/>
<line x1="87.04" y1="186.00" x2="92.24" y2="186.00" stroke="#000" stroke-width="0.9"/>
<line x1="109.31" y1="173.40" x2="109.31" y2="177.40" stroke="#000" stroke-width="0.9"/>
<line x1="106.71" y1="173.40" x2="111.91" y2="173.40" stroke="#000" stroke-width="0.9"/>
<line x1="106.71" y1="177.40" x2="111.91" y2="177.40" stroke="#000" stroke-width="0.9"/>
<line x1="128.98" y1="164.10" x2="128.98" y2="168.90" stroke="#000" stroke-width="0.9"/>
<line x1="126.38" y1="164.10" x2="131.58" y2="164.10" stroke="#000" stroke-width="0.9"/>
<line x1="126.38" y1="168.90" x2="131.58" y2="168.90" stroke="#000" stroke-width="0.9"/>
<line x1="148.65" y1="153.30" x2="148.65" y2="158.90" stroke="#000" stroke-width="0.9"/>
<line x1="146.05" y1="153.30" x2="151.25" y2="153.30" stroke="#000" stroke-width="0.9"/>
<line x1="146.05" y1="158.90" x2="151.25" y2="158.90" stroke="#000" stroke-width="0.9"/>
<line x1="168.32" y1="142.80" x2="168.32" y2="148.80" stroke="#000" stroke-width="0.9"/>
<line x1="165.72" y1="142.80" x2="170.92" y2="142.80" stroke="#000" stroke-width="0.9"/>
<line x1="165.72" y1="148.80" x2="170.92" y2="148.80" stroke="#000" stroke-width="0.9"/>
<line x1="187.99" y1="132.50" x2="187.99" y2="138.50" stroke="#000" stroke-width="0.9"/>
<line x1="185.39" y1="132.50" x2="190.59" y2="132.50" stroke="#000" stroke-width="0.9"/>
<line x1="185.39" y1="138.50" x2="190.59" y2="138.50" stroke="#000" stroke-width="0.9"/>
<line x1="207.66" y1="132.30" x2="207.66" y2="138.30" stroke="#000" stroke-width="0.9"/>
<line x1="205.06" y1="132.30" x2="210.26" y2="132.30" stroke="#000" stroke-width="0.9"/>
<line x1="205.06" y1="138.30" x2="210.26" y2="138.30" stroke="#000" stroke-width="0.9"/>
<line x1="227.33" y1="119.30" x2="227.33" y2="126.30" stroke="#000" stroke-width="0.9"/>
<line x1="224.73" y1="119.30" x2="229.93" y2="119.30" stroke="#000" stroke-width="0.9"/>
<line x1="224.73" y1="126.30" x2="229.93" y2="126.30" stroke="#000" stroke-width="0.9"/>
<line x1="247.00" y1="109.20" x2="247.00" y2="116.80" stroke="#000" stroke-width="0.9"/>
<line x1="244.40" y1="109.20" x2="249.60" y2="109.20" stroke="#000" stroke-width="0.9"/>
<line x1="244.40" y1="116.80" x2="249.60" y2="116.80" stroke="#000" stroke-width="0.9"/>
<line x1="266.67" y1="104.50" x2="266.67" y2="112.90" stroke="#000" stroke-width="0.9"/>
<line x1="264.07" y1="104.50" x2="269.27" y2="104.50" stroke="#000" stroke-width="0.9"/>
<line x1="264.07" y1="112.90" x2="269.27" y2="112.90" stroke="#000" stroke-width="0.9"/>
<line x1="286.34" y1="98.60" x2="286.34" y2="107.60" stroke="#000" stroke-width="0.9"/>
<line x1="283.74" y1="98.60" x2="288.94" y2="98.60" stroke="#000" stroke-width="0.9"/>
<line x1="283.74" y1="107.60" x2="288.94" y2="107.60" stroke="#000" stroke-width="0.9"/>
<line x1="69.97" y1="187.10" x2="69.97" y2="190.10" stroke="#000" stroke-width="0.9"/>
<line x1="67.37" y1="187.10" x2="72.57" y2="187.10" stroke="#000" stroke-width="0.9"/>
<line x1="67.37" y1="190.10" x2="72.57" y2="190.10" stroke="#000" stroke-width="0.9"/>
<line x1="89.64" y1="179.00" x2="89.64" y2="182.60" stroke="#000" stroke-width="0.9"/>
<line x1="87.04" y1="179.00" x2="92.24" y2="179.00" stroke="#000" stroke-width="0.9"/>
<line x1="87.04" y1="182.60" x2="92.24" y2="182.60" stroke="#000" stroke-width="0.9"/>
<line x1="109.31" y1="170.40" x2="109.31" y2="174.80" stroke="#000" stroke-width="0.9"/>
<line x1="106.71" y1="170.40" x2="111.91" y2="170.40" stroke="#000" stroke-width="0.9"/>
<line x1="106.71" y1="174.80" x2="111.91" y2="174.80" stroke="#000" stroke-width="0.9"/>
<line x1="128.98" y1="153.40" x2="128.98" y2="158.40" stroke="#000" stroke-width="0.9"/>
<line x1="126.38" y1="153.40" x2="131.58" y2="153.40" stroke="#000" stroke-width="0.9"/>
<line x1="126.38" y1="158.40" x2="131.58" y2="158.40" stroke="#000" stroke-width="0.9"/>
<line x1="148.65" y1="142.00" x2="148.65" y2="148.00" stroke="#000" stroke-width="0.9"/>
<line x1="146.05" y1="142.00" x2="151.25" y2="142.00" stroke="#000" stroke-width="0.9"/>
<line x1="146.05" y1="148.00" x2="151.25" y2="148.00" stroke="#000" stroke-width="0.9"/>
<line x1="168.32" y1="128.60" x2="168.32" y2="136.00" stroke="#000" stroke-width="0.9"/>
<line x1="165.72" y1="128.60" x2="170.92" y2="128.60" stroke="#000" stroke-width="0.9"/>
<line x1="165.72" y1="136.00" x2="170.92" y2="136.00" stroke="#000" stroke-width="0.9"/>
<line x1="187.99" y1="119.60" x2="187.99" y2="128.00" stroke="#000" stroke-width="0.9"/>
<line x1="185.39" y1="119.60" x2="190.59" y2="119.60" stroke="#000" stroke-width="0.9"/>
<line x1="185.39" y1="128.00" x2="190.59" y2="128.00" stroke="#000" stroke-width="0.9"/>
<line x1="207.66" y1="114.10" x2="207.66" y2="122.50" stroke="#000" stroke-width="0.9"/>
<line x1="205.06" y1="114.10" x2="210.26" y2="114.10" stroke="#000" stroke-width="0.9"/>
<line x1="205.06" y1="122.50" x2="210.26" y2="122.50" stroke="#000" stroke-width="0.9"/>
<line x1="227.33" y1="101.70" x2="227.33" y2="110.10" stroke="#000" stroke-width="0.9"/>
<line x1="224.73" y1="101.70" x2="229.93" y2="101.70" stroke="#000" stroke-width="0.9"/>
<line x1="224.73" y1="110.10" x2="229.93" y2="110.10" stroke="#000" stroke-width="0.9"/>
<line x1="247.00" y1="92.70" x2="247.00" y2="101.30" stroke="#000" stroke-width="0.9"/>
<line x1="244.40" y1="92.70" x2="249.60" y2="92.70" stroke="#000" stroke-width="0.9"/>
<line x1="244.40" y1="101.30" x2="249.60" y2="101.30" stroke="#000" stroke-width="0.9"/>
<line x1="266.67" y1="88.40" x2="266.67" y2="97.00" stroke="#000" stroke-width="0.9"/>
<line x1="264.07" y1="88.40" x2="269.27" y2="88.40" stroke="#000" stroke-width="0.9"/>
<line x1="264.07" y1="97.00" x2="269.27" y2="97.00" stroke="#000" stroke-width="0.9"/>
<line x1="286.34" y1="83.50" x2="286.34" y2="92.10" stroke="#000" stroke-width="0.9"/>
<line x1="283.74" y1="83.50" x2="288.94" y2="83.50" stroke="#000" stroke-width="0.9"/>
<line x1="283.74" y1="92.10" x2="288.94" y2="92.10" stroke="#000" stroke-width="0.9"/>
<circle cx="69.97" cy="188.60" r="2.1" fill="#000" stroke="#000" stroke-width="1.0"/>
<circle cx="89.64" cy="180.80" r="2.1" fill="#000" stroke="#000" stroke-width="1.0"/>
<circle cx="109.31" cy="172.60" r="2.1" fill="#000" stroke="#000" stroke-width="1.0"/>
<circle cx="128.98" cy="155.90" r="2.1" fill="#000" stroke="#000" stroke-width="1.0"/>
<circle cx="148.65" cy="145.00" r="2.1" fill="#000" stroke="#000" stroke-width="1.0"/>
<circle cx="168.32" cy="132.30" r="2.1" fill="#000" stroke="#000" stroke-width="1.0"/>
<circle cx="187.99" cy="123.80" r="2.1" fill="#000" stroke="#000" stroke-width="1.0"/>
<circle cx="207.66" cy="118.30" r="2.1" fill="#000" stroke="#000" stroke-width="1.0"/>
<circle cx="227.33" cy="105.90" r="2.1" fill="#000" stroke="#000" stroke-width="1.0"/>
<circle cx="247.00" cy="97.00" r="2.1" fill="#000" stroke="#000" stroke-width="1.0"/>
<circle cx="266.67" cy="92.70" r="2.1" fill="#000" stroke="#000" stroke-width="1.0"/>
<circle cx="286.34" cy="87.80" r="2.1" fill="#000" stroke="#000" stroke-width="1.0"/>
<path d="M69.97 190.75 L72.42 186.46 L67.52 186.46 Z" fill="#000" stroke="#000" stroke-width="0.9"/>
<path d="M89.64 186.65 L92.09 182.36 L87.19 182.36 Z" fill="#000" stroke="#000" stroke-width="0.9"/>
<path d="M109.31 177.85 L111.76 173.56 L106.86 173.56 Z" fill="#000" stroke="#000" stroke-width="0.9"/>
<path d="M128.98 168.95 L131.43 164.66 L126.53 164.66 Z" fill="#000" stroke="#000" stroke-width="0.9"/>
<path d="M148.65 158.55 L151.10 154.26 L146.20 154.26 Z" fill="#000" stroke="#000" stroke-width="0.9"/>
<path d="M168.32 148.25 L170.77 143.96 L165.87 143.96 Z" fill="#000" stroke="#000" stroke-width="0.9"/>
<path d="M187.99 137.95 L190.44 133.66 L185.54 133.66 Z" fill="#000" stroke="#000" stroke-width="0.9"/>
<path d="M207.66 137.75 L210.11 133.46 L205.21 133.46 Z" fill="#000" stroke="#000" stroke-width="0.9"/>
<path d="M227.33 125.25 L229.78 120.96 L224.88 120.96 Z" fill="#000" stroke="#000" stroke-width="0.9"/>
<path d="M247.00 115.45 L249.45 111.16 L244.55 111.16 Z" fill="#000" stroke="#000" stroke-width="0.9"/>
<path d="M266.67 111.15 L269.12 106.86 L264.22 106.86 Z" fill="#000" stroke="#000" stroke-width="0.9"/>
<path d="M286.34 105.55 L288.79 101.26 L283.89 101.26 Z" fill="#000" stroke="#000" stroke-width="0.9"/>
<circle cx="69.97" cy="197.50" r="2.1" fill="#fff" stroke="#000" stroke-width="1.0"/>
<circle cx="89.64" cy="194.00" r="2.1" fill="#fff" stroke="#000" stroke-width="1.0"/>
<circle cx="109.31" cy="191.00" r="2.1" fill="#fff" stroke="#000" stroke-width="1.0"/>
<circle cx="128.98" cy="186.40" r="2.1" fill="#fff" stroke="#000" stroke-width="1.0"/>
<circle cx="148.65" cy="181.80" r="2.1" fill="#fff" stroke="#000" stroke-width="1.0"/>
<circle cx="168.32" cy="180.50" r="2.1" fill="#fff" stroke="#000" stroke-width="1.0"/>
<circle cx="187.99" cy="178.30" r="2.1" fill="#fff" stroke="#000" stroke-width="1.0"/>
<circle cx="207.66" cy="177.00" r="2.1" fill="#fff" stroke="#000" stroke-width="1.0"/>
<circle cx="227.33" cy="172.80" r="2.1" fill="#fff" stroke="#000" stroke-width="1.0"/>
<circle cx="247.00" cy="170.40" r="2.1" fill="#fff" stroke="#000" stroke-width="1.0"/>
<circle cx="266.67" cy="170.40" r="2.1" fill="#fff" stroke="#000" stroke-width="1.0"/>
<circle cx="286.34" cy="168.70" r="2.1" fill="#fff" stroke="#000" stroke-width="1.0"/>
<path d="M69.97 193.15 L72.42 197.44 L67.52 197.44 Z" fill="#fff" stroke="#000" stroke-width="1.0"/>
<path d="M89.64 188.15 L92.09 192.44 L87.19 192.44 Z" fill="#fff" stroke="#000" stroke-width="1.0"/>
<path d="M109.31 183.35 L111.76 187.64 L106.86 187.64 Z" fill="#fff" stroke="#000" stroke-width="1.0"/>
<path d="M128.98 173.35 L131.43 177.64 L126.53 177.64 Z" fill="#fff" stroke="#000" stroke-width="1.0"/>
<path d="M148.65 162.55 L151.10 166.84 L146.20 166.84 Z" fill="#fff" stroke="#000" stroke-width="1.0"/>
<path d="M168.32 153.35 L170.77 157.64 L165.87 157.64 Z" fill="#fff" stroke="#000" stroke-width="1.0"/>
<path d="M187.99 146.85 L190.44 151.14 L185.54 151.14 Z" fill="#fff" stroke="#000" stroke-width="1.0"/>
<path d="M207.66 146.85 L210.11 151.14 L205.21 151.14 Z" fill="#fff" stroke="#000" stroke-width="1.0"/>
<path d="M227.33 137.35 L229.78 141.64 L224.88 141.64 Z" fill="#fff" stroke="#000" stroke-width="1.0"/>
<path d="M247.00 128.35 L249.45 132.64 L244.55 132.64 Z" fill="#fff" stroke="#000" stroke-width="1.0"/>
<path d="M266.67 123.35 L269.12 127.64 L264.22 127.64 Z" fill="#fff" stroke="#000" stroke-width="1.0"/>
<path d="M286.34 119.35 L288.79 123.64 L283.89 123.64 Z" fill="#fff" stroke="#000" stroke-width="1.0"/>
<path d="M69.97 188.90 L72.57 191.50 L69.97 194.10 L67.37 191.50 Z" fill="#fff" stroke="#000" stroke-width="1.0"/>
<path d="M89.64 183.70 L92.24 186.30 L89.64 188.90 L87.04 186.30 Z" fill="#fff" stroke="#000" stroke-width="1.0"/>
<path d="M109.31 178.40 L111.91 181.00 L109.31 183.60 L106.71 181.00 Z" fill="#fff" stroke="#000" stroke-width="1.0"/>
<path d="M128.98 168.60 L131.58 171.20 L128.98 173.80 L126.38 171.20 Z" fill="#fff" stroke="#000" stroke-width="1.0"/>
<path d="M148.65 158.20 L151.25 160.80 L148.65 163.40 L146.05 160.80 Z" fill="#fff" stroke="#000" stroke-width="1.0"/>
<path d="M168.32 148.20 L170.92 150.80 L168.32 153.40 L165.72 150.80 Z" fill="#fff" stroke="#000" stroke-width="1.0"/>
<path d="M187.99 140.20 L190.59 142.80 L187.99 145.40 L185.39 142.80 Z" fill="#fff" stroke="#000" stroke-width="1.0"/>
<path d="M207.66 139.70 L210.26 142.30 L207.66 144.90 L205.06 142.30 Z" fill="#fff" stroke="#000" stroke-width="1.0"/>
<path d="M227.33 129.20 L229.93 131.80 L227.33 134.40 L224.73 131.80 Z" fill="#fff" stroke="#000" stroke-width="1.0"/>
<path d="M247.00 120.70 L249.60 123.30 L247.00 125.90 L244.40 123.30 Z" fill="#fff" stroke="#000" stroke-width="1.0"/>
<path d="M266.67 117.20 L269.27 119.80 L266.67 122.40 L264.07 119.80 Z" fill="#fff" stroke="#000" stroke-width="1.0"/>
<path d="M286.34 112.60 L288.94 115.20 L286.34 117.80 L283.74 115.20 Z" fill="#fff" stroke="#000" stroke-width="1.0"/>
<line x1="89.30" y1="41.20" x2="102.20" y2="41.20" stroke="#000" stroke-width="0.9"/>
<circle cx="95.80" cy="41.20" r="2.3" fill="#fff" stroke="#000" stroke-width="1.0"/>
<text x="109.50" y="46.60" font-size="12" text-anchor="start" letter-spacing="-0.14">Control</text>
<line x1="89.30" y1="55.50" x2="102.20" y2="55.50" stroke="#000" stroke-width="0.9" stroke-dasharray="2.2,1.6"/>
<circle cx="95.80" cy="55.50" r="2.05" fill="#000" stroke="#000" stroke-width="1.0"/>
<text x="109.50" y="60.60" font-size="12" text-anchor="start" letter-spacing="-0.14">HFD</text>
<line x1="89.30" y1="69.00" x2="102.20" y2="69.00" stroke="#000" stroke-width="0.9"/>
<path d="M95.80 66.80 L98.30 71.17 L93.30 71.17 Z" fill="#fff" stroke="#000" stroke-width="1.0"/>
<text x="109.50" y="74.10" font-size="12" text-anchor="start" letter-spacing="-0.14">HFD + BG</text>
<line x1="89.30" y1="82.50" x2="102.20" y2="82.50" stroke="#000" stroke-width="0.9"/>
<path d="M95.80 84.60 L98.20 80.40 L93.40 80.40 Z" fill="#000" stroke="#000" stroke-width="0.9"/>
<text x="109.50" y="87.60" font-size="12" text-anchor="start" letter-spacing="-0.14">HFD + MB</text>
<line x1="89.30" y1="95.90" x2="102.20" y2="95.90" stroke="#000" stroke-width="0.9"/>
<path d="M95.80 93.30 L98.40 95.90 L95.80 98.50 L93.20 95.90 Z" fill="#fff" stroke="#000" stroke-width="1.0"/>
<text x="109.50" y="101.00" font-size="12" text-anchor="start" letter-spacing="-0.14">HFD + BG + MB</text>
<path d="M85.2 39.5 H82.5 V52.2 H85.2" stroke="#444" stroke-width="1.1" fill="none"/>
<path d="M85.2 54.5 H82.3 V67.6 H85.2" stroke="#444" stroke-width="1.1" fill="none"/>
<path d="M73.6 54.5 H70.4 V94.5 H73.6" stroke="#444" stroke-width="1.1" fill="none"/>
<text x="77.00" y="53.30" font-size="11" text-anchor="middle">**</text>
<text x="77.10" y="68.50" font-size="11" text-anchor="middle">*</text>
<text x="66.20" y="81.70" font-size="11" text-anchor="middle">*</text>
</svg></body></html>
